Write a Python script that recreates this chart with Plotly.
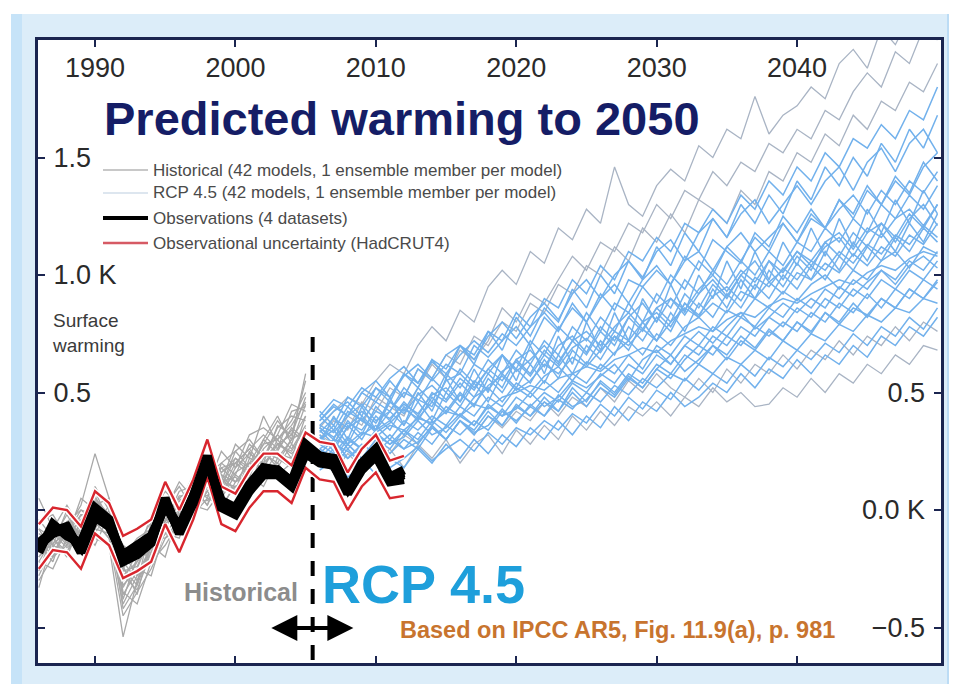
import plotly.graph_objects as go

# ---------------- data ----------------
hist_years = list(range(1986, 2006))
rcp_years = list(range(2006, 2051))
obs_years = list(range(1986, 2013))

hist_models = [
    [-0.20,-0.10,-0.05,-0.12,0.02,-0.03,-0.30,-0.25,-0.10,-0.05,0.02,0.00,0.10,0.15,0.12,0.20,0.18,0.28,0.25,0.35],
    [-0.10,-0.15,0.00,-0.05,0.10,0.00,-0.22,-0.30,-0.18,-0.02,0.05,0.10,0.05,0.18,0.20,0.15,0.25,0.22,0.30,0.40],
    [-0.25,-0.18,-0.10,-0.02,-0.08,-0.10,-0.40,-0.28,-0.20,-0.10,-0.02,0.08,0.12,0.10,0.22,0.18,0.28,0.30,0.22,0.32],
    [-0.05,-0.02,-0.12,0.05,0.00,-0.08,-0.25,-0.15,-0.05,0.02,0.10,0.00,0.15,0.20,0.15,0.28,0.22,0.35,0.40,0.38],
    [-0.30,-0.20,-0.15,-0.10,-0.05,-0.12,-0.45,-0.35,-0.25,-0.12,-0.08,0.02,0.00,0.08,0.10,0.12,0.18,0.15,0.20,0.28],
    [-0.15,-0.05,-0.08,0.02,0.24,0.05,-0.20,-0.18,-0.08,0.05,-0.05,0.12,0.18,0.10,0.25,0.30,0.22,0.32,0.45,0.42],
    [-0.22,-0.25,-0.12,-0.18,-0.10,0.00,-0.35,-0.40,-0.22,-0.15,-0.05,-0.02,0.05,0.02,0.10,0.05,0.15,0.20,0.12,0.25],
    [0.05,-0.08,0.02,-0.08,0.05,-0.02,-0.15,-0.20,-0.02,0.08,0.02,0.15,0.10,0.25,0.18,0.32,0.35,0.30,0.38,0.50],
    [-0.33,-0.12,-0.20,-0.05,-0.12,-0.15,-0.54,-0.30,-0.15,-0.20,0.00,-0.05,0.10,0.05,0.15,0.10,0.25,0.18,0.28,0.22],
    [-0.12,-0.20,-0.05,-0.10,0.08,-0.05,-0.28,-0.22,-0.12,0.00,0.12,0.05,0.20,0.12,0.28,0.22,0.40,0.28,0.32,0.55],
    [-0.18,-0.08,-0.15,-0.02,-0.02,-0.08,-0.32,-0.25,-0.28,-0.08,-0.10,0.10,0.02,0.15,0.08,0.25,0.15,0.25,0.35,0.30],
    [-0.08,-0.12,-0.02,-0.12,0.02,0.05,-0.18,-0.28,-0.15,-0.02,0.05,-0.02,0.08,0.18,0.12,0.20,0.30,0.40,0.28,0.45],
    [-0.28,-0.15,-0.18,-0.08,-0.15,-0.02,-0.38,-0.20,-0.18,-0.10,-0.12,0.05,0.08,0.00,0.12,0.15,0.10,0.22,0.18,0.15],
    [-0.15,-0.22,-0.05,0.00,-0.05,-0.12,-0.25,-0.32,-0.05,-0.05,0.08,0.10,0.02,0.20,0.25,0.18,0.28,0.38,0.30,0.58],
    [-0.20,-0.14,-0.10,-0.15,-0.04,-0.08,-0.33,-0.22,-0.14,-0.06,0.00,0.04,0.14,0.08,0.16,0.20,0.24,0.20,0.30,0.34],
    [-0.12,-0.06,-0.14,-0.08,0.04,-0.02,-0.26,-0.24,-0.10,0.00,-0.02,0.08,0.06,0.16,0.22,0.16,0.26,0.32,0.26,0.36],
    [-0.24,-0.16,-0.06,-0.12,-0.06,-0.04,-0.42,-0.32,-0.16,-0.08,0.04,0.00,0.08,0.14,0.06,0.22,0.20,0.26,0.34,0.28],
    [-0.08,-0.18,-0.10,0.00,-0.02,-0.10,-0.30,-0.18,-0.20,-0.04,0.06,0.06,0.12,0.08,0.20,0.26,0.18,0.30,0.36,0.46],
    [-0.26,-0.10,-0.16,-0.10,-0.08,0.02,-0.24,-0.36,-0.12,-0.12,-0.04,0.02,0.16,0.12,0.10,0.14,0.30,0.24,0.22,0.40],
    [-0.16,-0.20,-0.08,-0.06,0.06,-0.06,-0.36,-0.26,-0.22,-0.02,0.02,0.12,0.10,0.06,0.18,0.24,0.20,0.36,0.32,0.48],
    [-0.04,-0.12,-0.06,-0.10,-0.02,-0.04,-0.20,-0.12,-0.08,0.04,0.00,0.08,0.22,0.16,0.20,0.26,0.32,0.26,0.42,0.44],
    [-0.22,-0.12,-0.18,-0.04,0.00,-0.10,-0.28,-0.34,-0.18,-0.04,-0.06,0.04,0.04,0.12,0.14,0.08,0.22,0.28,0.24,0.30],
]

rcp_models = [
    [0.38,0.45,0.40,0.50,0.46, 0.55,0.48,0.60,0.55,0.62, 0.58,0.70,0.65,0.72,0.78, 0.70,0.82,0.76,0.88,0.80, 0.92,0.85,0.98,0.95,1.02, 0.96,1.08,1.02,1.15,1.10, 1.05,1.18,1.12,1.25,1.18, 1.28,1.20,1.32,1.26,1.38, 1.30,1.42,1.35,1.48,1.40],
    [0.22,0.18,0.26,0.20,0.28, 0.24,0.30,0.26,0.35,0.30, 0.38,0.32,0.40,0.36,0.45, 0.40,0.48,0.42,0.52,0.46, 0.55,0.50,0.58,0.54,0.62, 0.58,0.66,0.62,0.70,0.64, 0.72,0.68,0.76,0.72,0.80, 0.75,0.84,0.80,0.88,0.82, 0.90,0.86,0.94,0.90,0.98],
    [0.32,0.25,0.36,0.30,0.40, 0.34,0.44,0.38,0.48,0.42, 0.50,0.44,0.56,0.50,0.60, 0.54,0.64,0.56,0.68,0.62, 0.72,0.66,0.78,0.72,0.82, 0.76,0.88,0.82,0.94,0.86, 0.98,0.90,1.02,0.95,1.05, 0.98,1.10,1.02,1.14,1.06, 1.18,1.10,1.22,1.14,1.26],
    [0.42,0.36,0.48,0.44,0.52, 0.46,0.58,0.52,0.64,0.56, 0.70,0.62,0.76,0.68,0.82, 0.74,0.86,0.80,0.94,0.86, 1.00,0.92,1.06,0.98,1.12, 1.04,1.18,1.10,1.24,1.16, 1.30,1.22,1.34,1.26,1.40, 1.32,1.46,1.38,1.50,1.42, 1.56,1.48,1.62,1.54,1.68],
    [0.18,0.24,0.16,0.22,0.15, 0.22,0.18,0.26,0.20,0.28, 0.22,0.30,0.24,0.32,0.27, 0.35,0.30,0.38,0.32,0.40, 0.35,0.44,0.38,0.46,0.42, 0.50,0.44,0.48,0.54,0.50, 0.58,0.52,0.60,0.56,0.64, 0.58,0.66,0.62,0.70,0.65, 0.74,0.70,0.78,0.74,0.82],
    [0.28,0.40,0.30,0.44,0.34, 0.48,0.36,0.50,0.42,0.56, 0.46,0.60,0.50,0.66,0.55, 0.70,0.58,0.74,0.62,0.80, 0.68,0.84,0.72,0.90,0.80, 0.96,0.84,1.00,0.90,1.06, 0.94,1.10,0.98,1.14,1.04, 1.20,1.08,1.24,1.12,1.28, 1.18,1.32,1.22,1.36,1.26],
    [0.26,0.30,0.28,0.33,0.31, 0.36,0.34,0.39,0.37,0.42, 0.40,0.45,0.43,0.48,0.50, 0.53,0.51,0.56,0.58,0.61, 0.59,0.64,0.66,0.69,0.67, 0.72,0.75,0.78,0.76,0.81, 0.84,0.82,0.87,0.90,0.88, 0.92,0.95,0.98,0.96,1.01, 1.04,1.02,1.07,1.10,1.08],
    [0.35,0.30,0.42,0.38,0.34, 0.46,0.42,0.52,0.46,0.58, 0.52,0.62,0.58,0.66,0.60, 0.72,0.66,0.78,0.72,0.84, 0.76,0.88,0.84,0.95,0.88, 1.00,0.94,1.06,1.00,1.12, 1.06,1.16,1.10,1.22,1.14, 1.26,1.20,1.32,1.24,1.36, 1.30,1.40,1.34,1.46,1.52],
    [0.24,0.20,0.28,0.22,0.30, 0.26,0.34,0.28,0.36,0.30, 0.38,0.34,0.42,0.36,0.44, 0.40,0.46,0.42,0.50,0.44, 0.52,0.48,0.56,0.52,0.60, 0.56,0.64,0.70,0.66,0.74, 0.70,0.78,0.74,0.80,0.76, 0.84,0.80,0.88,0.84,0.92, 0.86,0.94,0.90,0.98,0.94],
    [0.34,0.28,0.38,0.32,0.44, 0.38,0.46,0.40,0.50,0.46, 0.54,0.48,0.58,0.52,0.64, 0.58,0.68,0.62,0.72,0.66, 0.76,0.70,0.82,0.76,0.86, 0.80,0.92,0.86,0.96,0.90, 1.00,0.94,1.06,0.98,1.08, 1.02,1.14,1.08,1.18,1.12, 1.22,1.16,1.26,1.20,1.30],
    [0.30,0.34,0.26,0.32,0.36, 0.30,0.38,0.34,0.40,0.36, 0.44,0.40,0.48,0.44,0.52, 0.48,0.55,0.50,0.58,0.54, 0.62,0.58,0.66,0.60,0.70, 0.66,0.74,0.70,0.78,0.74, 0.82,0.78,0.86,0.82,0.90, 0.86,0.94,0.90,0.98,0.94, 1.02,0.98,1.06,1.02,1.10],
    [0.40,0.34,0.44,0.38,0.46, 0.42,0.52,0.46,0.56,0.50, 0.60,0.54,0.64,0.58,0.68, 0.62,0.72,0.66,0.78,0.72, 0.82,0.76,0.88,0.80,0.92, 0.86,0.98,0.92,1.02,0.96, 1.06,1.00,1.10,1.04,1.14, 1.10,1.20,1.14,1.24,1.18, 1.30,1.24,1.34,1.28,1.38],
    [0.20,0.26,0.22,0.28,0.24, 0.30,0.26,0.33,0.28,0.36, 0.32,0.38,0.34,0.42,0.38, 0.44,0.40,0.47,0.43,0.50, 0.46,0.53,0.49,0.56,0.52, 0.58,0.55,0.62,0.58,0.65, 0.62,0.68,0.64,0.72,0.68, 0.75,0.72,0.79,0.76,0.83, 0.80,0.86,0.84,0.90,0.88],
    [0.30,0.36,0.28,0.40,0.34, 0.42,0.36,0.46,0.38,0.50, 0.44,0.54,0.46,0.58,0.52, 0.62,0.54,0.66,0.58,0.70, 0.64,0.74,0.68,0.80,0.72, 0.84,0.76,0.88,0.82,0.92, 0.86,0.96,0.90,1.00,0.94, 1.04,0.98,1.08,1.02,1.12, 1.06,1.16,1.10,1.20,1.14],
    [0.36,0.42,0.46,0.40,0.52, 0.48,0.58,0.54,0.64,0.60, 0.70,0.66,0.76,0.72,0.84, 0.78,0.90,0.86,0.98,0.92, 1.04,0.98,1.10,1.06,1.16, 1.10,1.22,1.18,1.28,1.22, 1.34,1.28,1.40,1.34,1.46, 1.40,1.52,1.46,1.58,1.54, 1.64,1.58,1.70,1.66,1.80],
    [0.26,0.22,0.30,0.26,0.32, 0.28,0.34,0.30,0.38,0.33, 0.40,0.36,0.44,0.40,0.48, 0.44,0.50,0.46,0.54,0.50, 0.58,0.54,0.62,0.58,0.66, 0.62,0.70,0.66,0.74,0.70, 0.78,0.74,0.82,0.78,0.86, 0.82,0.90,0.86,0.94,0.90, 0.98,0.94,1.02,0.98,1.06],
    [0.36,0.33,0.40,0.45,0.38, 0.42,0.50,0.47,0.44,0.55, 0.58,0.52,0.60,0.66,0.59, 0.64,0.70,0.63,0.72,0.76, 0.70,0.78,0.84,0.77,0.86, 0.90,0.83,0.92,0.98,0.91, 1.00,1.06,0.97,1.02,1.10, 1.04,1.12,1.16,1.08,1.18, 1.22,1.14,1.24,1.30,1.21],
    [0.24,0.30,0.22,0.27,0.33, 0.28,0.31,0.38,0.32,0.35, 0.41,0.36,0.45,0.40,0.43, 0.50,0.44,0.48,0.55,0.52, 0.57,0.62,0.55,0.64,0.68, 0.62,0.70,0.76,0.71,0.78, 0.84,0.77,0.82,0.88,0.84, 0.90,0.86,0.95,0.91,0.97, 1.02,0.96,1.04,1.08,1.03],
    [0.40,0.47,0.44,0.52,0.48, 0.56,0.61,0.54,0.63,0.58, 0.66,0.72,0.67,0.75,0.70, 0.78,0.84,0.77,0.86,0.80, 0.90,0.96,0.88,0.98,1.04, 0.96,1.06,1.10,1.02,1.12, 1.18,1.10,1.16,1.22,1.14, 1.24,1.20,1.28,1.34,1.26, 1.36,1.30,1.40,1.35,1.44],
    [0.17,0.21,0.14,0.19,0.23, 0.18,0.22,0.27,0.21,0.26, 0.30,0.25,0.33,0.28,0.35, 0.32,0.38,0.34,0.41,0.37, 0.45,0.40,0.48,0.43,0.51, 0.47,0.56,0.51,0.58,0.54, 0.62,0.57,0.65,0.61,0.68, 0.64,0.71,0.67,0.75,0.70, 0.78,0.74,0.82,0.77,0.86],
    [0.31,0.27,0.35,0.39,0.33, 0.37,0.43,0.39,0.46,0.41, 0.49,0.45,0.53,0.57,0.51, 0.55,0.62,0.58,0.65,0.61, 0.68,0.74,0.70,0.77,0.72, 0.80,0.86,0.82,0.88,0.84, 0.93,0.90,0.97,0.92,1.01, 0.98,1.05,1.01,1.09,1.04, 1.12,1.08,1.17,1.13,1.22],
    [0.38,0.44,0.40,0.50,0.55, 0.48,0.57,0.62,0.56,0.66, 0.70,0.64,0.74,0.80,0.73, 0.82,0.88,0.81,0.92,0.98, 0.90,1.00,1.06,0.99,1.10, 1.15,1.06,1.18,1.24,1.16, 1.26,1.32,1.22,1.30,1.38, 1.30,1.40,1.46,1.36,1.48, 1.54,1.44,1.56,1.62,1.52],
    [0.28,0.24,0.31,0.26,0.34, 0.38,0.32,0.40,0.36,0.44, 0.40,0.48,0.52,0.46,0.54, 0.50,0.57,0.61,0.55,0.63, 0.60,0.67,0.72,0.66,0.75, 0.70,0.78,0.82,0.76,0.85, 0.82,0.90,0.86,0.93,0.89, 0.96,1.00,0.94,1.02,0.98, 1.06,1.10,1.03,1.12,1.09],
    [0.33,0.39,0.35,0.42,0.37, 0.46,0.41,0.49,0.53,0.47, 0.56,0.51,0.60,0.55,0.64, 0.68,0.61,0.70,0.74,0.67, 0.78,0.72,0.82,0.88,0.80, 0.90,0.85,0.94,1.00,0.93, 1.02,0.97,1.06,1.01,1.10, 1.06,1.14,1.18,1.11,1.20, 1.16,1.24,1.28,1.21,1.30],
    [0.22,0.28,0.25,0.20,0.27, 0.32,0.26,0.29,0.35,0.30, 0.38,0.33,0.36,0.43,0.37, 0.45,0.40,0.49,0.44,0.47, 0.54,0.49,0.57,0.52,0.60, 0.66,0.59,0.64,0.70,0.66, 0.74,0.69,0.77,0.72,0.80, 0.76,0.84,0.79,0.86,0.83, 0.90,0.86,0.94,0.90,0.97],
    [0.35,0.31,0.37,0.34,0.42, 0.39,0.45,0.41,0.49,0.52, 0.46,0.55,0.51,0.59,0.63, 0.57,0.66,0.61,0.69,0.73, 0.67,0.76,0.72,0.80,0.84, 0.78,0.88,0.83,0.91,0.95, 0.89,0.99,0.95,1.03,0.98, 1.06,1.02,1.10,1.05,1.13, 1.09,1.17,1.13,1.21,1.16],
]

rcp_gray_models = [
    [0.35,0.42,0.48,0.45,0.55, 0.62,0.58,0.70,0.78,0.72, 0.85,0.80,0.95,1.02,0.96, 1.10,1.05,1.20,1.15,1.28, 1.22,1.46,1.30,1.25,1.38, 1.45,1.40,1.55,1.50,1.62, 1.58,1.76,1.60,1.68,1.72, 1.80,1.75,1.90,1.96,1.88, 2.05,1.98,2.10,2.02,2.15],
    [0.30,0.38,0.34,0.46,0.42, 0.52,0.48,0.60,0.56,0.66, 0.62,0.74,0.70,0.80,0.76, 0.88,0.84,0.96,0.92,1.04, 1.00,1.12,1.06,1.20,1.14, 1.26,1.18,1.32,1.28,1.22, 1.36,1.30,1.44,1.40,1.52, 1.48,1.60,1.55,1.68,1.62, 1.74,1.70,1.82,1.78,1.90],
    [0.32,0.28,0.40,0.36,0.48, 0.44,0.40,0.52,0.62,0.56, 0.68,0.64,0.72,0.86,0.80, 0.92,0.88,0.98,1.08,1.02, 1.14,1.10,1.22,1.18,1.30, 1.24,1.36,1.32,1.44,1.38, 1.48,1.44,1.56,1.52,1.62, 1.58,1.70,1.66,1.78,1.86, 1.80,1.95,1.90,2.05,2.00],
    [0.22,0.16,0.24,0.18,0.20, 0.26,0.18,0.28,0.22,0.30, 0.20,0.28,0.32,0.24,0.34, 0.28,0.36,0.30,0.40,0.34, 0.42,0.36,0.44,0.40,0.46, 0.40,0.48,0.44,0.52,0.46, 0.50,0.44,0.45,0.52,0.48, 0.56,0.50,0.58,0.54,0.62, 0.58,0.66,0.62,0.70,0.68],
    [0.25,0.20,0.28,0.22,0.30, 0.24,0.32,0.28,0.36,0.30, 0.38,0.32,0.40,0.35,0.42, 0.38,0.46,0.40,0.48,0.44, 0.52,0.46,0.55,0.50,0.58, 0.52,0.48,0.56,0.50,0.60, 0.54,0.62,0.58,0.66,0.60, 0.68,0.64,0.72,0.66,0.74, 0.70,0.78,0.72,0.80,0.76],
]

obs_datasets = [
    [-0.16,-0.08,-0.09,-0.16,-0.01,-0.06,-0.20,-0.17,-0.13,0.03,-0.09,0.05,0.22,0.02,-0.01,0.09,0.16,0.16,0.11,0.26,0.21,0.20,0.08,0.18,0.24,0.13,0.15],
    [-0.15,-0.10,-0.08,-0.17,-0.02,-0.05,-0.21,-0.16,-0.12,0.02,-0.08,0.06,0.21,0.03,0.00,0.10,0.15,0.17,0.12,0.25,0.22,0.19,0.09,0.19,0.25,0.14,0.16],
    [-0.18,-0.06,-0.11,-0.14,0.01,-0.04,-0.22,-0.19,-0.14,0.05,-0.10,0.03,0.20,0.04,0.01,0.11,0.18,0.17,0.12,0.28,0.23,0.22,0.09,0.20,0.26,0.14,0.17],
    [-0.14,-0.09,-0.07,-0.18,-0.03,-0.07,-0.19,-0.15,-0.11,0.02,-0.07,0.06,0.23,0.01,-0.02,0.08,0.15,0.15,0.10,0.24,0.20,0.19,0.07,0.17,0.23,0.12,0.13],
]
obs_upper = [-0.06,0.01,0.00,-0.07,0.08,0.03,-0.11,-0.08,-0.04,0.12,0.00,0.13,0.30,0.10,0.07,0.17,0.24,0.24,0.19,0.33,0.29,0.28,0.16,0.26,0.32,0.21,0.23]
obs_lower = [-0.25,-0.17,-0.18,-0.25,-0.10,-0.15,-0.29,-0.26,-0.22,-0.06,-0.18,-0.04,0.14,-0.06,-0.09,0.01,0.08,0.08,0.03,0.18,0.13,0.12,0.00,0.10,0.16,0.05,0.06]

split_year = 2005.5
split_top = 0.736
arrow_from, arrow_to, arrow_level = 2002.45, 2008.4, -0.502

x_ticks = [1990, 2000, 2010, 2020, 2030, 2040]
y_ticks = [-0.5, 0.0, 0.5, 1.0, 1.5]
# hidden " K" keeps the right-aligned left labels flush on their left edge
HIDE = '<span style="color:rgba(0,0,0,0)"> K</span>'
left_tick_text = ["", "", "0.5" + HIDE, "1.0 K", "1.5" + HIDE]
right_tick_text = ["\u22120.5", "0.0 K", "0.5", "", ""]

x_range = [1985.94, 2050.25]
y_range = [-0.651, 2.0]

# ---------------- layout helpers ----------------
# the page adds an 8px body margin, so the figure is 8px smaller and
# all screen positions below are given in window pixels
OFF = 8
W, H = 957 - OFF, 684 - OFF
PL, PT, PR, PB = 38, 40, 941, 663          # plot area in window pixels
PW, PH = PR - PL, PB - PT
FONT = "Liberation Sans, Arial, Helvetica, sans-serif"
FRAME = "#1b2550"


def px(x):
    return (x - PL) / PW


def py(y):
    return (PB - y) / PH


fig = go.Figure()

for m in hist_models:
    fig.add_trace(go.Scatter(x=hist_years, y=m, mode="lines",
                             line=dict(color="#a8a8a8", width=1.3),
                             showlegend=False, hoverinfo="skip"))
for m in rcp_gray_models:
    fig.add_trace(go.Scatter(x=rcp_years, y=m, mode="lines",
                             line=dict(color="#a9b4c4", width=1.3),
                             showlegend=False, hoverinfo="skip"))
for m in rcp_models:
    fig.add_trace(go.Scatter(x=rcp_years, y=m, mode="lines",
                             line=dict(color="#72b1ec", width=1.5),
                             showlegend=False, hoverinfo="skip"))

# overlay axis group (dashed split line, observations)
fig.add_trace(go.Scatter(x=[split_year, split_year], y=[split_top, y_range[0]],
                         mode="lines", yaxis="y2",
                         line=dict(color="black", width=4, dash="15px,13px"),
                         showlegend=False, hoverinfo="skip"))
for band in (obs_upper, obs_lower):
    fig.add_trace(go.Scatter(x=obs_years, y=band, mode="lines", yaxis="y2",
                             line=dict(color="white", width=5.5),
                             showlegend=False, hoverinfo="skip"))
for band in (obs_upper, obs_lower):
    fig.add_trace(go.Scatter(x=obs_years, y=band, mode="lines", yaxis="y2",
                             line=dict(color="#d8262e", width=2.4),
                             showlegend=False, hoverinfo="skip"))
for d in obs_datasets:
    fig.add_trace(go.Scatter(x=obs_years, y=d, mode="lines", yaxis="y2",
                             line=dict(color="black", width=9),
                             showlegend=False, hoverinfo="skip"))

shapes = [
    dict(type="rect", xref="paper", yref="paper", layer="below",
         x0=px(11), x1=px(970), y0=py(700), y1=py(14),
         fillcolor="#dcedf9", line=dict(width=0)),
    dict(type="rect", xref="paper", yref="paper", layer="below",
         x0=px(11), x1=px(22), y0=py(700), y1=py(14),
         fillcolor="#c6e3f8", line=dict(width=0)),
    dict(type="rect", xref="paper", yref="paper", layer="below",
         x0=px(947), x1=px(970), y0=py(700), y1=py(14),
         fillcolor="#bcdcf5", line=dict(width=0)),
    dict(type="rect", xref="paper", yref="paper", layer="below",
         x0=0, x1=1, y0=0, y1=1, fillcolor="white", line=dict(width=0)),
]

legend_rows = [
    ("Historical (42 models, 1 ensemble member per model)", "#c8c8c8", 2, 170),
    ("RCP 4.5 (42 models, 1 ensemble member per model)", "#dde6ef", 2, 193),
    ("Observations (4 datasets)", "black", 4, 218),
    ("Observational uncertainty (HadCRUT4)", "#d65a64", 2.5, 243),
]
annotations = []
for text, col, lw, yy in legend_rows:
    shapes.append(dict(type="line", xref="paper", yref="paper",
                       x0=px(103), x1=px(148), y0=py(yy), y1=py(yy),
                       line=dict(color=col, width=lw)))
    annotations.append(dict(text=text, xref="paper", yref="paper",
                            x=px(151), y=py(yy), xanchor="left", yanchor="middle",
                            showarrow=False,
                            font=dict(family=FONT, size=17, color="#4a4a4a")))

annotations += [
    dict(text="<b>Predicted warming to 2050</b>", xref="paper", yref="paper",
         x=px(102), y=py(119), xanchor="left", yanchor="middle", showarrow=False,
         font=dict(family=FONT, size=47, color="#151d66")),
    dict(text="Surface<br>warming", xref="paper", yref="paper",
         x=px(50), y=py(333), xanchor="left", yanchor="middle", align="left",
         showarrow=False, font=dict(family=FONT, size=19, color="#3a3a3a")),
    dict(text="<b>Historical</b>", xref="paper", yref="paper",
         x=px(300), y=py(592), xanchor="right", yanchor="middle", showarrow=False,
         font=dict(family=FONT, size=25, color="#8c8c8c")),
    dict(text="<b>RCP 4.5</b>", xref="paper", yref="paper",
         x=px(320), y=py(584), xanchor="left", yanchor="middle", showarrow=False,
         font=dict(family=FONT, size=54, color="#1e9fdb")),
    dict(text="<b>Based on IPCC AR5, Fig. 11.9(a), p. 981</b>", xref="paper", yref="paper",
         x=px(398), y=py(630), xanchor="left", yanchor="middle", showarrow=False,
         font=dict(family=FONT, size=23.5, color="#c8742e")),
    dict(text="", xref="x", yref="y", axref="x", ayref="y",
         x=arrow_to, y=arrow_level, ax=arrow_from, ay=arrow_level,
         showarrow=True, arrowhead=2, arrowside="end+start",
         arrowwidth=4, arrowsize=1.3, arrowcolor="black"),
]

tickfont = dict(family=FONT, size=27, color="#2a2a2a")

fig.update_layout(
    width=W, height=H,
    margin=dict(l=PL - OFF, r=W - (PR - OFF), t=PT - OFF, b=H - (PB - OFF), pad=0),
    paper_bgcolor="white", plot_bgcolor="rgba(0,0,0,0)",
    showlegend=False,
    shapes=shapes, annotations=annotations,
    xaxis=dict(range=x_range, side="top", tickvals=x_ticks,
               ticks="inside", ticklen=7, tickwidth=1.5, tickcolor=FRAME,
               ticklabelposition="outside", ticklabelstandoff=-51, tickfont=tickfont,
               showline=True, linewidth=3, linecolor=FRAME, mirror="ticks",
               showgrid=False, zeroline=False),
    yaxis=dict(range=y_range, tickvals=y_ticks, ticktext=left_tick_text,
               ticks="inside", ticklen=7, tickwidth=1.5, tickcolor=FRAME,
               ticklabelposition="outside", ticklabelstandoff=-87, tickfont=tickfont,
               showline=True, linewidth=3, linecolor=FRAME, mirror="ticks",
               showgrid=False, zeroline=False),
    yaxis2=dict(range=y_range, overlaying="y", side="right",
                tickvals=y_ticks, ticktext=right_tick_text,
                ticks="", ticklabelposition="inside", ticklabelstandoff=13,
                tickfont=tickfont,
                showline=False, showgrid=False, zeroline=False),
)

fig.write_html("out.html")
